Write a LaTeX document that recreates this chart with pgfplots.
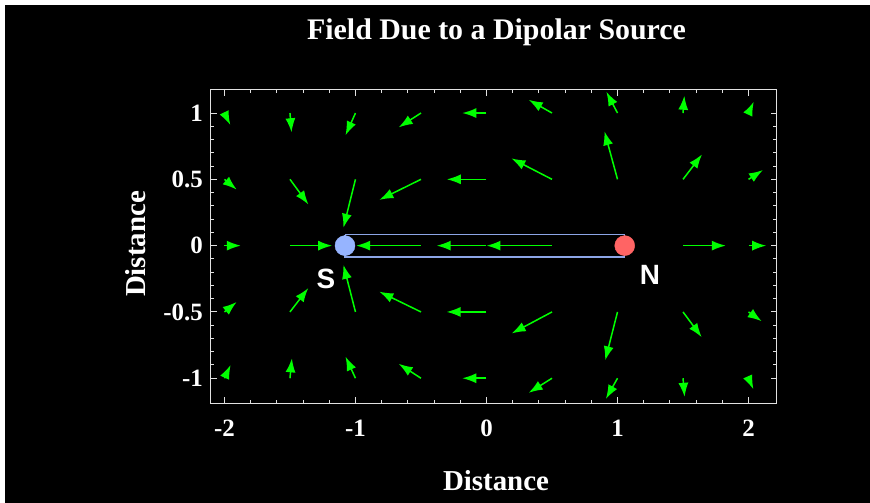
\documentclass[border=0pt]{standalone}
\usepackage{pgfplots}
\pgfplotsset{compat=1.18}
\usepackage{pgfplotstable}
\usepackage{fontspec}
\setmainfont{Liberation Serif}
\newfontfamily\sansfont{Liberation Sans}
\usetikzlibrary{arrows.meta}
\definecolor{fieldgreen}{RGB}{0,255,0}
\definecolor{sblue}{RGB}{150,180,255}
\definecolor{nred}{RGB}{255,100,100}
\definecolor{magnet}{RGB}{140,165,230}
\definecolor{framegray}{RGB}{225,225,225}

\pgfplotstableread{
x y u v
-2 1 0.045 -0.09
-1.5 1 0.012 -0.145
-1 1 -0.076 -0.168
-0.5 1 -0.17 -0.108
0 1 -0.185 0
0.5 1 -0.178 0.1
1 1 -0.085 0.16
1.5 1 0.01 0.13
2 1 0.04 0.085
-2 0.5 0.093 -0.077
-1.5 0.5 0.141 -0.19
-1 0.5 -0.092 -0.365
-0.5 0.5 -0.318 -0.155
0 0.5 -0.303 0
0.5 0.5 -0.31 0.158
1 0.5 -0.1 0.363
1.5 0.5 0.145 0.188
2 0.5 0.11 0.07
-2 0 0.125 0
-1.5 0 0.322 0
-0.5 0 -0.495 0
0 0 -0.38 0
0.5 0 -0.5 0
1.5 0 0.327 0
2 0 0.135 0
-2 -0.5 0.093 0.075
-1.5 -0.5 0.14 0.18
-1 -0.5 -0.092 0.355
-0.5 -0.5 -0.318 0.153
0 -0.5 -0.305 0
0.5 -0.5 -0.308 -0.162
1 -0.5 -0.094 -0.365
1.5 -0.5 0.142 -0.19
2 -0.5 0.1 -0.07
-2 -1 0.047 0.1
-1.5 -1 0.015 0.15
-1 -1 -0.076 0.163
-0.5 -1 -0.17 0.109
0 -1 -0.185 0
0.5 -1 -0.178 -0.11
1 -1 -0.089 -0.156
1.5 -1 0.012 -0.14
2 -1 0.037 -0.083
}\fielddata

\begin{document}
\begin{tikzpicture}
\fill[white] (0,0) rectangle (870bp,503bp);
\fill[black] (5bp,0) rectangle (870bp,498bp);
\begin{axis}[
  at={(210.7bp,99.7bp)}, anchor=south west,
  width=566bp, height=313.6bp, scale only axis,
  xmin=-2.105, xmax=2.215, ymin=-1.189, ymax=1.176,
  axis line style={framegray, line width=1.5bp},
  tick style={framegray, line width=1bp},
  major tick length=6bp, minor tick length=3.5bp,
  tick align=inside,
  xtick={-2,-1,0,1,2}, xticklabels={-2,-1,0,1,2},
  ytick={-1,-0.5,0,0.5,1}, yticklabels={-1,-0.5,0,0.5,1},
  minor x tick num=4, minor y tick num=4,
  ticklabel style={text=white, font=\bfseries\fontsize{25}{25}\selectfont},
  xticklabel style={anchor=base, yshift=-33bp},
  yticklabel style={anchor=east, inner sep=0pt, xshift=-7.7bp},
  title={Field Due to a Dipolar Source},
  title style={at={(axis description cs:0.505,1.14)}, anchor=base, text=white, font=\bfseries\fontsize{30}{30}\selectfont},
  xlabel={Distance},
  xlabel style={at={(axis description cs:0.504,-0.277)}, anchor=base, text=white, font=\bfseries\fontsize{29}{29}\selectfont},
  ylabel={Distance},
  ylabel style={at={(axis description cs:-0.116,0.508)}, anchor=base, rotate=0, text=white, font=\bfseries\fontsize{29}{29}\selectfont},
]
\addplot[magnet, line width=1.5bp] coordinates {(-1.08,0.083) (1.055,0.083) (1.055,-0.087) (-1.08,-0.087) (-1.08,0.083)};
\addplot[fieldgreen, line width=1.5bp, -{Latex[length=14bp,width=10bp]}, quiver={u=\thisrow{u}, v=\thisrow{v}}] table[x=x,y=y] {\fielddata};
\addplot[only marks, mark=*, mark size=10bp, mark options={draw=sblue, fill=sblue}] coordinates {(-1.08,0)};
\addplot[only marks, mark=*, mark size=10bp, mark options={draw=nred, fill=nred}] coordinates {(1.055,0)};
\node[text=white, font=\sansfont\bfseries\fontsize{28}{28}\selectfont] at (axis cs:-1.225,-0.25) {S};
\node[text=white, font=\sansfont\bfseries\fontsize{28}{28}\selectfont] at (axis cs:1.248,-0.22) {N};
\end{axis}
\pgfresetboundingbox
\useasboundingbox (0,0) rectangle (870bp,503bp);
\end{tikzpicture}
\end{document}
